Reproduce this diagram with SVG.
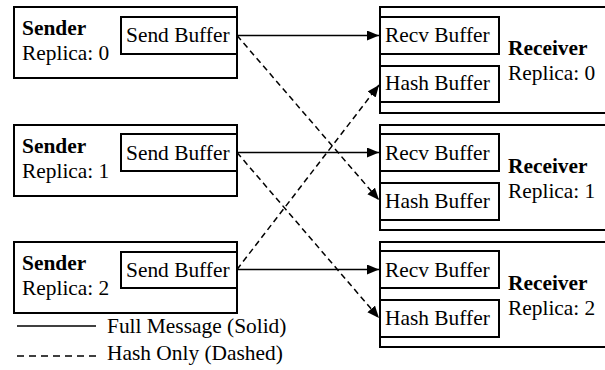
<svg xmlns="http://www.w3.org/2000/svg" width="605" height="370" viewBox="0 0 605 370">
  <style>
    .box { fill: #fff; stroke: #000; stroke-width: 2; }
    text { font-family: 'Liberation Serif', 'Times New Roman', Times, 'DejaVu Serif', serif; font-size: 21.4px; fill: #000; }
    .b { font-weight: bold; }
    .solid { stroke: #000; stroke-width: 1.5; fill: none; }
    .dash { stroke: #000; stroke-width: 1.5; fill: none; stroke-dasharray: 6 4; }
    .ldash { stroke: #000; stroke-width: 1.5; fill: none; stroke-dasharray: 7 5; }
  </style>
  <defs>
    <marker id="arr" markerUnits="userSpaceOnUse" markerWidth="14" markerHeight="12" refX="12" refY="5" orient="auto">
      <path d="M0,0 L12,5 L0,10 Z" fill="#000" stroke="none"/>
    </marker>
  </defs>

  <g id="sender0">
    <rect class="box" x="14" y="7" width="223" height="71"/>
    <rect class="box" x="121" y="17" width="116" height="37"/>
    <text class="b" x="22" y="35">Sender</text>
    <text x="22" y="60">Replica: 0</text>
    <text x="126" y="42">Send Buffer</text>
  </g>
  <g id="sender1">
    <rect class="box" x="14" y="125" width="223" height="71"/>
    <rect class="box" x="121" y="134" width="116" height="37"/>
    <text class="b" x="22" y="153">Sender</text>
    <text x="22" y="178">Replica: 1</text>
    <text x="126" y="160">Send Buffer</text>
  </g>
  <g id="sender2">
    <rect class="box" x="14" y="242" width="223" height="71"/>
    <rect class="box" x="121" y="252" width="116" height="36"/>
    <text class="b" x="22" y="270">Sender</text>
    <text x="22" y="295">Replica: 2</text>
    <text x="126" y="277">Send Buffer</text>
  </g>

  <g id="receiver0">
    <rect class="box" x="380" y="7" width="240" height="106"/>
    <rect class="box" x="380" y="17" width="119" height="37"/>
    <rect class="box" x="380" y="66" width="119" height="36"/>
    <text x="385" y="42">Recv Buffer</text>
    <text x="385" y="90">Hash Buffer</text>
    <text class="b" x="508" y="55">Receiver</text>
    <text x="508" y="80">Replica: 0</text>
  </g>
  <g id="receiver1">
    <rect class="box" x="380" y="125" width="240" height="105"/>
    <rect class="box" x="380" y="134" width="119" height="37"/>
    <rect class="box" x="380" y="183" width="119" height="37"/>
    <text x="385" y="160">Recv Buffer</text>
    <text x="385" y="208">Hash Buffer</text>
    <text class="b" x="508" y="173">Receiver</text>
    <text x="508" y="198">Replica: 1</text>
  </g>
  <g id="receiver2">
    <rect class="box" x="380" y="242" width="240" height="105"/>
    <rect class="box" x="380" y="251" width="119" height="37"/>
    <rect class="box" x="380" y="300" width="119" height="37"/>
    <text x="385" y="277">Recv Buffer</text>
    <text x="385" y="325">Hash Buffer</text>
    <text class="b" x="508" y="290">Receiver</text>
    <text x="508" y="315">Replica: 2</text>
  </g>

  <g id="connectors">
    <line class="solid" x1="237" y1="35.5" x2="379" y2="35.5" marker-end="url(#arr)"/>
    <line class="solid" x1="237" y1="152.5" x2="379" y2="152.5" marker-end="url(#arr)"/>
    <line class="solid" x1="237" y1="269.5" x2="379" y2="269.5" marker-end="url(#arr)"/>
    <line class="dash" x1="237" y1="35.5" x2="379" y2="200" marker-end="url(#arr)"/>
    <line class="dash" x1="237" y1="152.5" x2="379" y2="318" marker-end="url(#arr)"/>
    <line class="dash" x1="237" y1="269.5" x2="379" y2="85" marker-end="url(#arr)"/>
  </g>

  <g id="legend">
    <line class="solid" x1="17" y1="326" x2="96" y2="326"/>
    <text x="107" y="333">Full Message (Solid)</text>
    <line class="ldash" x1="17" y1="356" x2="96" y2="356"/>
    <text x="107" y="360">Hash Only (Dashed)</text>
  </g>
</svg>
